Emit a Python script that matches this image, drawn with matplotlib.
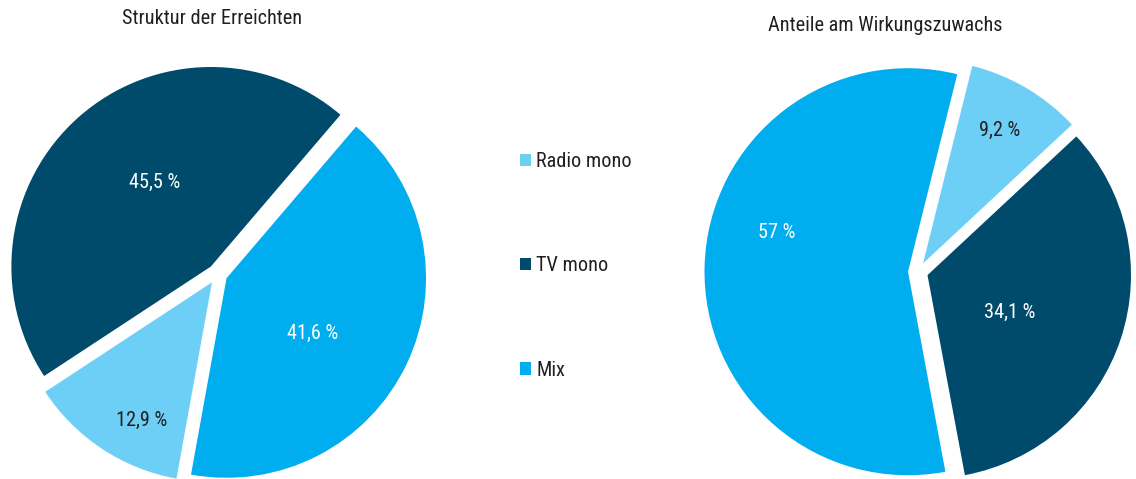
import matplotlib
matplotlib.use("Agg")
import matplotlib.pyplot as plt
from matplotlib.patches import Patch

plt.rcParams['font.family'] = ['Roboto Condensed', 'Liberation Sans Narrow', 'DejaVu Sans']

# data
labels_left = ["TV mono", "Radio mono", "Mix"]
values_left = [45.5, 12.9, 41.6]
labels_right = ["Mix", "TV mono", "Radio mono"]
values_right = [57, 34.1, 9.2]
title_left = "Struktur der Erreichten"
title_right = "Anteile am Wirkungszuwachs"
legend_order = ["Radio mono", "TV mono", "Mix"]

colors = {"Radio mono": "#6dcff6", "TV mono": "#004a6b", "Mix": "#00adee"}
text_colors = {"Radio mono": "#231f20", "TV mono": "white", "Mix": "white"}
ink = "#231f20"
fs = 14.6

W, H = 1136, 479
fig = plt.figure(figsize=(W / 100, H / 100), dpi=100)
ax = fig.add_axes([0, 0, 1, 1])


def fmt(v):
    s = ("%g" % v).replace(".", ",")
    return s + " %"


def draw_pie(values, names, center, radius, start, label_pos):
    ax.pie(values, colors=[colors[n] for n in names], startangle=start,
           counterclock=True, center=(center[0], H - center[1]), radius=radius,
           explode=[10] * len(values), wedgeprops=dict(linewidth=0))
    for v, n, (px, py) in zip(values, names, label_pos):
        ax.text(px, H - py, fmt(v), ha="center", va="center", fontsize=fs,
                color=text_colors[n])


# left pie
draw_pie(values_left, labels_left, (217.5, 274), 199.5, 49.5,
         [(155, 182), (142, 420), (313, 333)])
# right pie
draw_pie(values_right, labels_right, (918, 272), 203.5, 76,
         [(777, 232), (1010, 312), (1000, 130)])

ax.text(212, H - 18, title_left, ha="center", va="center", fontsize=fs, color=ink)
ax.text(885, H - 25, title_right, ha="center", va="center", fontsize=fs, color=ink)

handles = [Patch(facecolor=colors[n], edgecolor="none", label=n) for n in legend_order]
ax.legend(handles=handles, loc="upper left", bbox_to_anchor=(502 / W, 1 - 134 / H),
          frameon=False, fontsize=fs, handlelength=0.55, handleheight=0.55,
          handletextpad=0.25, labelspacing=4.2, labelcolor=ink)

ax.set_xlim(0, W)
ax.set_ylim(0, H)
ax.set_aspect("equal")
ax.axis("off")

fig.savefig("out.png", dpi=100)
